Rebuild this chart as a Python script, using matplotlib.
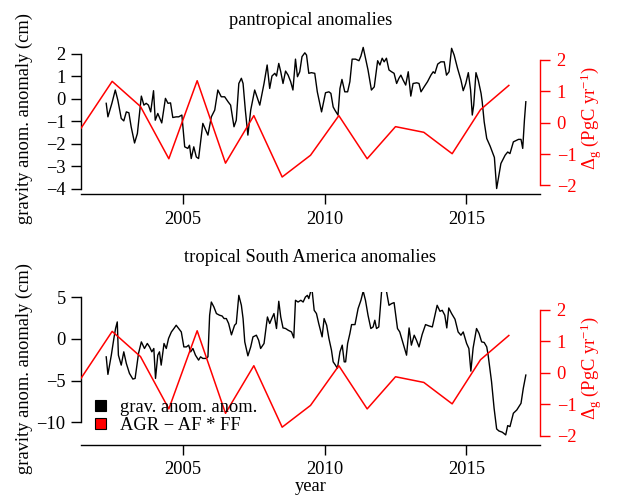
import matplotlib
matplotlib.use("Agg")
import matplotlib.pyplot as plt
from matplotlib.patches import Patch

plt.rcParams['font.family'] = ['Liberation Serif', 'DejaVu Serif']
plt.rcParams['mathtext.fontset'] = 'custom'
plt.rcParams['mathtext.rm'] = 'Liberation Serif'
plt.rcParams['mathtext.it'] = 'Liberation Serif:italic'
plt.rcParams['mathtext.bf'] = 'Liberation Serif:bold'

# ---------------- data ----------------
pan_years = [2002.29, 2002.35, 2002.49, 2002.61, 2002.70, 2002.82, 2002.91, 2003.00, 2003.09, 2003.17,
             2003.29, 2003.39, 2003.53, 2003.62, 2003.70, 2003.78, 2003.86, 2003.96, 2004.02, 2004.11,
             2004.25, 2004.38, 2004.47, 2004.56, 2004.64, 2004.76, 2004.85, 2004.96, 2005.06, 2005.17,
             2005.23, 2005.29, 2005.38, 2005.47, 2005.55, 2005.70, 2005.88, 2006.00, 2006.12, 2006.23,
             2006.35, 2006.47, 2006.59, 2006.68, 2006.80, 2006.88, 2006.97, 2007.06, 2007.12, 2007.20,
             2007.29, 2007.39, 2007.53, 2007.71, 2007.86, 2007.97, 2008.06, 2008.14, 2008.24, 2008.30,
             2008.38, 2008.45, 2008.53, 2008.62, 2008.71, 2008.80, 2008.88, 2008.97, 2009.04, 2009.12,
             2009.20, 2009.30, 2009.36, 2009.44, 2009.53, 2009.65, 2009.74, 2009.89, 2010.03, 2010.15,
             2010.22, 2010.30, 2010.36, 2010.47, 2010.54, 2010.61, 2010.71, 2010.81, 2010.89, 2010.97,
             2011.09, 2011.21, 2011.28, 2011.36, 2011.44, 2011.53, 2011.65, 2011.75, 2011.87, 2011.95,
             2012.03, 2012.10, 2012.18, 2012.27, 2012.36, 2012.45, 2012.54, 2012.62, 2012.69, 2012.77,
             2012.86, 2012.95, 2013.04, 2013.12, 2013.25, 2013.33, 2013.40, 2013.51, 2013.63, 2013.75,
             2013.83, 2013.89, 2013.99, 2014.10, 2014.22, 2014.30, 2014.39, 2014.48, 2014.57, 2014.69,
             2014.81, 2014.89, 2014.98, 2015.07, 2015.15, 2015.21, 2015.26, 2015.34, 2015.42, 2015.52,
             2015.56, 2015.63, 2015.72, 2015.84, 2015.99, 2016.07, 2016.15, 2016.22, 2016.37, 2016.46,
             2016.54, 2016.66, 2016.84, 2016.93, 2016.99, 2017.05, 2017.10]
pan_grav = [-0.2, -0.8, -0.2, 0.39, -0.06, -0.87, -0.98, -0.58, -0.62, -1.24,
            -1.96, -1.54, 0.12, -0.28, -0.2, -0.28, -0.58, 0.36, -0.95, -0.65,
            -1.07, 0.02, -0.2, -0.18, -0.83, -0.8, -0.8, -0.72, -2.13, -2.2,
            -2.06, -2.65, -2.13, -2.58, -2.65, -1.09, -1.61, -0.8, -0.5, 0.39,
            0.09, 0.09, -0.13, -0.28, -1.24, -0.95, 0.68, 0.91, 0.68, -0.5,
            -1.61, -0.5, 0.39, -0.28, 0.68, 1.5, 0.46, 1.01, 1.13, 1.01,
            1.57, 1.2, 0.68, 1.23, 1.05, 0.76, 0.39, 1.76, 0.98, 1.2,
            1.87, 2.04, 1.94, 1.13, 1.16, 1.13, 0.31, -0.58, 0.27, 0.31,
            0.24, -0.36, -0.5, -0.72, 0.46, 0.86, 0.31, 0.31, 0.76, 1.76,
            1.76, 1.69, 1.9, 2.28, 1.8, 1.28, 0.39, 0.53, 1.69, 1.5,
            1.8, 1.64, 1.8, 1.28, 1.2, 1.13, 0.68, 0.91, 1.05, 0.83,
            0.61, 1.2, 0.12, 0.68, 0.71, 0.68, 0.31, 0.53, 0.76, 1.05,
            1.2, 1.13, 1.54, 1.64, 1.64, 1.05, 1.2, 2.24, 1.94, 1.35,
            0.83, 0.36, 0.68, 1.16, 0.39, -0.72, -0.28, 1.16, 0.83, 0.24,
            -0.13, -1.02, -1.76, -2.1, -2.6, -3.98, -3.39, -2.87, -2.5, -2.36,
            -2.43, -1.91, -1.8, -1.8, -2.2, -0.95, -0.13]

sa_years = [2002.29, 2002.35, 2002.47, 2002.56, 2002.62, 2002.68, 2002.72, 2002.82, 2002.91, 2003.00,
            2003.11, 2003.23, 2003.31, 2003.43, 2003.53, 2003.64, 2003.74, 2003.82, 2003.90, 2003.97,
            2004.03, 2004.11, 2004.17, 2004.23, 2004.33, 2004.41, 2004.49, 2004.59, 2004.68, 2004.76,
            2004.85, 2004.94, 2005.03, 2005.12, 2005.20, 2005.27, 2005.35, 2005.44, 2005.55, 2005.62,
            2005.70, 2005.82, 2005.88, 2005.94, 2006.00, 2006.09, 2006.18, 2006.29, 2006.38, 2006.45,
            2006.53, 2006.61, 2006.71, 2006.82, 2006.88, 2006.97, 2007.06, 2007.12, 2007.18, 2007.29,
            2007.39, 2007.47, 2007.59, 2007.67, 2007.74, 2007.86, 2007.98, 2008.06, 2008.14, 2008.21,
            2008.30, 2008.38, 2008.45, 2008.53, 2008.62, 2008.71, 2008.83, 2008.91, 2008.97, 2009.06,
            2009.16, 2009.24, 2009.32, 2009.39, 2009.44, 2009.51, 2009.56, 2009.63, 2009.71, 2009.79,
            2009.91, 2009.98, 2010.07, 2010.15, 2010.24, 2010.30, 2010.38, 2010.45, 2010.54, 2010.62,
            2010.69, 2010.74, 2010.81, 2010.89, 2010.95, 2011.07, 2011.18, 2011.28, 2011.36, 2011.44,
            2011.53, 2011.63, 2011.71, 2011.77, 2011.83, 2011.91, 2012.01, 2012.06, 2012.18, 2012.27,
            2012.36, 2012.45, 2012.57, 2012.65, 2012.77, 2012.89, 2012.98, 2013.06, 2013.16, 2013.24,
            2013.33, 2013.44, 2013.56, 2013.68, 2013.80, 2013.89, 2013.97, 2014.07, 2014.15, 2014.24,
            2014.31, 2014.38, 2014.48, 2014.60, 2014.71, 2014.81, 2014.89, 2015.01, 2015.09, 2015.16,
            2015.24, 2015.36, 2015.45, 2015.54, 2015.63, 2015.72, 2015.77, 2015.89, 2015.98, 2016.07,
            2016.15, 2016.27, 2016.39, 2016.46, 2016.54, 2016.66, 2016.78, 2016.93, 2017.01, 2017.10]
sa_grav = [-2.16, -4.26, -1.96, 0.04, 1.23, 2.02, -1.96, -3.15, -1.56, -2.95,
           -4.14, -4.82, -4.74, -1.75, -0.37, -1.16, -0.56, -0.97, -1.56, -1.16,
           -4.74, -1.96, -1.56, -3.15, -0.56, -1.16, 0.04, 0.82, 1.23, 1.62,
           1.23, 0.82, -0.97, -0.97, -0.76, -1.56, -1.16, -1.96, -2.55, -2.16,
           -2.35, -2.35, -2.16, 2.82, 4.4, 3.81, 3.02, 2.82, 2.73, 2.42,
           2.42, 1.83, 0.47, 1.62, 1.83, 5.2, 4.01, 2.42, -0.37, -2.04,
           -0.97, 0.23, 0.43, -0.17, -1.16, -0.56, 2.61, 1.83, 2.49, 3.02,
           1.23, 4.49, 2.61, 1.3, 1.23, 1.03, 0.82, 0.11, 4.61, 4.4,
           4.61, 4.4, 5.0, 5.2, 4.81, 5.7, 5.7, 3.41, 3.02, 1.83,
           0.23, 2.42, 1.62, 0.04, -1.36, -2.76, -3.15, -3.54, -1.56, -0.76,
           -2.76, -2.76, -0.56, 0.63, 1.7, 1.7, 3.62, 4.61, 5.7, 4.61,
           2.82, 1.23, 1.42, 2.22, 1.23, 1.42, 5.7, 5.7, 5.7, 4.01,
           4.21, 4.33, 1.23, 0.82, -0.56, -1.96, 1.3, -0.76, 0.43, -0.17,
           -0.97, 0.51, 1.7, 1.54, 1.42, 2.82, 4.01, 3.29, 3.41, 2.82,
           1.3, 3.69, 3.02, 2.34, 0.82, 0.43, 0.82, -0.56, -1.16, -3.87,
           -1.09, 1.23, 0.63, -0.37, -0.44, -0.97, -1.96, -5.14, -8.32, -10.79,
           -11.03, -11.18, -11.5, -10.39, -10.51, -8.91, -8.52, -7.72, -5.93, -4.34]

agr_years = [2001.4, 2002.5, 2003.5, 2004.5, 2005.5, 2006.5, 2007.5, 2008.5,
             2009.5, 2010.5, 2011.5, 2012.5, 2013.5, 2014.5, 2015.5, 2016.5]
agr_vals = [-0.18, 1.31, 0.51, -1.15, 1.33, -1.29, 0.22, -1.73,
            -1.04, 0.22, -1.15, -0.13, -0.31, -0.99, 0.41, 1.18]

titles = ["pantropical anomalies", "tropical South America anomalies"]
left_label = "gravity anom. anomaly (cm)"
right_label = r"$\Delta_{\mathrm{g}}$ (PgC yr$^{-1}$)"
x_ticks = [2005, 2010, 2015]
pan_yticks = [-4, -3, -2, -1, 0, 1, 2]
sa_yticks = [-10, -5, 0, 5]
agr_yticks = [-2, -1, 0, 1, 2]
legend_labels = ["grav. anom. anom.", "AGR \u2212 AF * FF"]

# ---------------- layout ----------------
W, H = 617, 496
FS = 13.3
fig = plt.figure(figsize=(W / 100, H / 100), dpi=100)

def px_axes(left, top, right, bottom):
    return fig.add_axes([left / W, 1 - bottom / H, (right - left) / W, (bottom - top) / H])

panels = [
    dict(box=(81, 42, 540, 194.3), years=pan_years, vals=pan_grav, ylim=(-4.236, 2.52),
         yticks=pan_yticks, title_y=25, mid=118),
    dict(box=(81, 292, 540, 444.5), years=sa_years, vals=sa_grav, ylim=(-12.65, 5.6),
         yticks=sa_yticks, title_y=262, mid=368),
]

axr_last = None
for i, p in enumerate(panels):
    ax = px_axes(*p['box'])
    ax.plot(p['years'], p['vals'], color='black', lw=1.0)
    ax.set_xlim(2001.4, 2017.6)
    ax.set_ylim(*p['ylim'])
    ax.set_xticks(x_ticks)
    ax.set_yticks(p['yticks'])
    ax.set_yticklabels([str(v).replace('-', '\u2212') for v in p['yticks']])
    ax.spines['top'].set_visible(False)
    ax.spines['right'].set_visible(False)
    ax.spines['left'].set_bounds(p['yticks'][0], p['yticks'][-1])
    for s in ('left', 'bottom'):
        ax.spines[s].set_linewidth(1.0)
    ax.tick_params(axis='both', direction='out', length=7, width=1.0, pad=5,
                   labelsize=FS, colors='black')
    ax.tick_params(axis='y', pad=4)
    ax.patch.set_alpha(0)

    axr = ax.twinx()
    axr.plot(agr_years, agr_vals, color='red', lw=1.1)
    axr.set_xlim(2001.4, 2017.6)
    axr.set_ylim(-2.28, 2.56)
    axr.set_yticks(agr_yticks)
    axr.set_yticklabels([str(v).replace('-', '\u2212') for v in agr_yticks])
    for s in ('left', 'top', 'bottom'):
        axr.spines[s].set_visible(False)
    axr.spines['right'].set_bounds(-2, 2)
    axr.spines['right'].set_color('red')
    axr.spines['right'].set_linewidth(1.0)
    axr.tick_params(axis='y', direction='out', length=7, width=1.0, pad=5,
                    labelsize=FS, colors='red')
    axr.patch.set_alpha(0)
    axr_last = axr

    cx = (p['box'][0] + p['box'][2]) / 2
    fig.text(cx / W, 1 - p['title_y'] / H, titles[i], ha='center', va='baseline', fontsize=FS)
    fig.text(24 / W, 1 - p['mid'] / H, left_label, rotation=90, ha='center', va='center',
             fontsize=FS)
    fig.text(591 / W, 1 - p['mid'] / H, right_label, rotation=90, ha='center', va='center',
             fontsize=FS, color='red')

fig.text(310.5 / W, 1 - 491 / H, "year", ha='center', va='baseline', fontsize=FS)

handles = [Patch(facecolor='black', edgecolor='black', lw=0.8),
           Patch(facecolor='red', edgecolor='black', lw=0.8)]
axr_last.legend(handles=handles, labels=legend_labels, loc='upper left',
                bbox_to_anchor=(95 / W, 1 - 399 / H), bbox_transform=fig.transFigure,
                frameon=False, borderpad=0, borderaxespad=0, handlelength=0.6,
                handleheight=0.6, handletextpad=0.75, labelspacing=0.05, fontsize=FS)

fig.savefig("out.png", dpi=100)
